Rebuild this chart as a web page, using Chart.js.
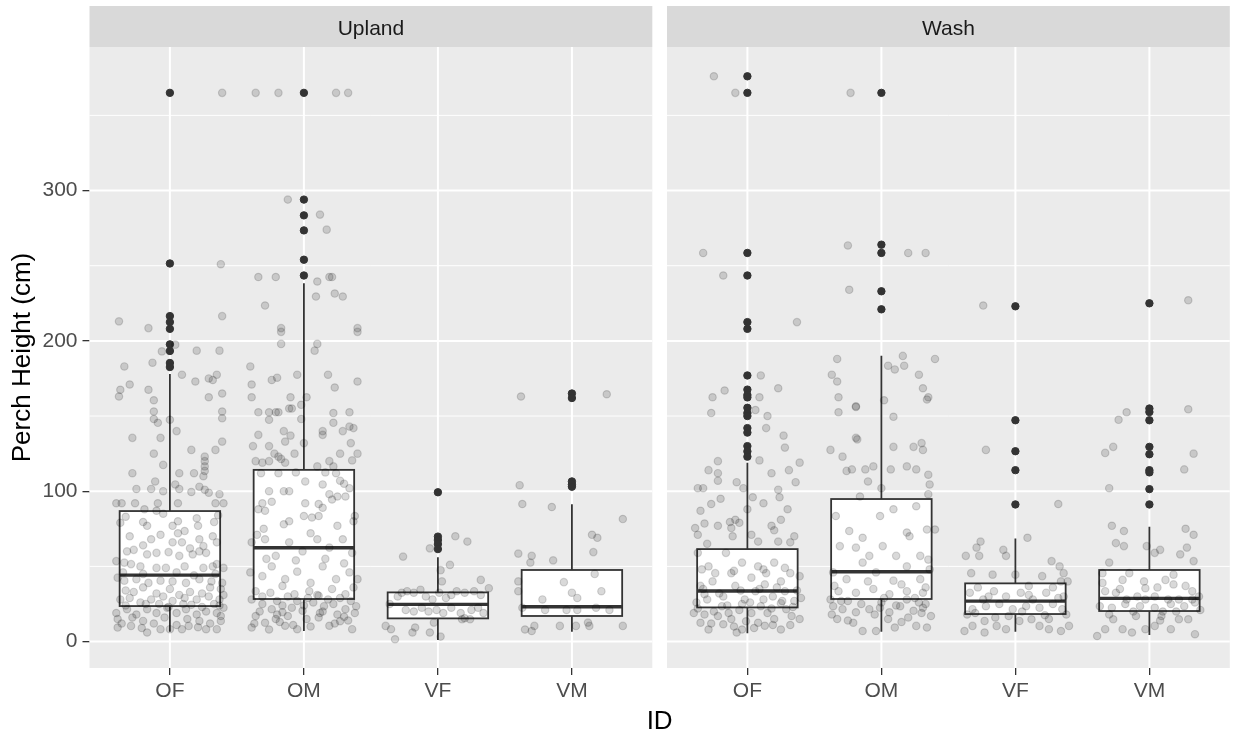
<!DOCTYPE html>
<html><head><meta charset="utf-8">
<script src="https://cdn.jsdelivr.net/npm/chart.js@4"></script>
<style>html,body{margin:0;padding:0;background:#fff;}#wrap{width:1235px;height:736px;position:relative;}</style>
</head><body><div id="wrap"><canvas id="c" width="1235" height="736"></canvas></div>
<script>
// ---------- data ----------
const panels = ['Upland', 'Wash'];
const categories = ['OF', 'OM', 'VF', 'VM'];
const yTicks = [0, 100, 200, 300];
const yMinorTicks = [50, 150, 250, 350];

// box statistics [OF, OM, VF, VM]
const uplandQ1 = [23.6, 28.3, 15.4, 17.0];
const uplandMedian = [44.2, 62.4, 24.7, 23.1];
const uplandQ3 = [86.8, 114.2, 32.7, 47.6];
const uplandLow = [6.5, 7.0, 1.0, 6.5];
const uplandHigh = [177.9, 238.3, 56.0, 91.3];
const washQ1 = [22.7, 28.3, 18.3, 20.3];
const washMedian = [33.6, 46.4, 26.9, 28.7];
const washQ3 = [61.5, 94.8, 38.7, 47.6];
const washLow = [5.5, 6.5, 6.5, 4.3];
const washHigh = [119.0, 190.1, 68.6, 76.4];

// outliers
const uplandOutliers = [
  [365, 251.5, 216.5, 212.5, 208, 197.7, 193.3, 185.3, 182.6],
  [365, 294, 283.5, 273.5, 254, 243.5],
  [99.3, 69.8, 67.5, 64.8, 61.5],
  [165, 162, 106.5, 104.5, 103]
];
const washOutliers = [
  [376, 365, 258.5, 243.5, 212.5, 208, 177, 167.6, 164, 162.4, 155.5, 152, 150, 142, 139, 130, 126.5, 123],
  [365, 264, 258.5, 233, 221],
  [223, 147.2, 126.6, 114, 91.2],
  [225, 155, 152.7, 147.2, 129.5, 124.6, 114, 112.5, 101.4, 91.2]
];

// jittered observations: [horizontal jitter offset (category units), perch height]
const uplandOF = [[0.39,365],[0.38,251],[-0.38,213],[-0.16,208.5],[0.39,216.5],[-0.06,193],[0.04,197.5],[0.2,193.5],[0.37,193.5],[-0.34,183],[-0.13,185.5],[0.09,177.5],[0.19,173],[0.29,175],[0.32,174],[0.35,177.5],[-0.3,171],[-0.37,167.5],[-0.38,163],[-0.16,167.5],[-0.12,160.5],[0.29,162.5],[0.39,165],
[-0.12,153],[-0.12,148],[-0.09,145.5],[0,147.5],[0.39,153],[0.39,148.5],[0.05,140],[-0.28,135.5],[-0.07,135.5],[0.39,133],[-0.12,125],[0.16,127.5],[0.34,127.5],[0.26,123],[0.26,120],[0.26,116.5],[0.26,113.5],[-0.05,117.5],[-0.28,112],[0.07,112],[0.18,112],[0.25,110],[-0.11,106.5],[0.04,104.5],[0.07,101.5],[-0.25,101.5],[-0.14,101.5],[-0.05,100],[0.16,99.5],[0.22,103],[0.26,101],[0.29,99],[0.37,98],[-0.4,92],[-0.36,92],[-0.26,92],[-0.09,92],[0.06,92],[0.34,92],[0.4,92],[-0.19,88],[-0.1,87],
[-0.2,79.5],[-0.17,77],[0.06,80],[0.21,77],[0.33,79.5],[-0.33,83],[-0.05,85],[0.2,82],[0.36,84],
[-0.07,71],[-0.14,68],[0.02,77],[0.06,72],[0.11,73.5],[0.02,66],[0.09,66],[0.22,68],[0.25,63.5],[0.35,66],[0.32,70],
[-0.32,60],[-0.27,61],[-0.17,58],[-0.1,59],[-0.01,59.5],[0.07,57],[0.17,58],[0.22,60],[0.27,59],
[-0.4,53.5],[-0.34,52.5],[-0.29,51.5],[0.35,51.5],[0.4,49],[-0.22,50],[-0.1,49],[-0.03,49],[0.11,50],[0.25,49],[0.32,50],
[-0.39,42.5],[-0.34,40.5],[-0.25,41.5],[-0.16,39],[-0.07,40.5],[0.02,40],[0.12,39],[0.22,41.5],[0.31,40],[0.39,39],
[-0.33,34],[-0.2,36],[0,35],[0.15,33],[0.3,36],[-0.08,25],[0.16,24.5],[0.33,25],
[-0.37,28],[-0.3,29],[-0.22,26],[-0.14,28],[-0.05,30],[0.02,27],[0.11,29],[0.2,28],[0.29,30],[0.37,28],[0.4,31],
[-0.4,19],[-0.32,21.5],[-0.25,18],[-0.17,21.5],[-0.1,19],[-0.02,22.5],[0.05,19],[0.12,21.5],[0.2,18],[0.27,20],[0.35,19],[0.4,22.5],
[-0.39,15],[-0.39,9.3],[-0.29,10.4],[-0.2,13.7],[-0.17,6],[-0.07,8.2],[0,8.2],[0.09,8.2],[0.14,10.4],[0.22,13.7],[0.27,8.2],[0.35,8.2],[0.38,13.7],
[-0.36,12],[-0.28,16],[-0.21,9],[-0.12,12],[-0.04,16],[0.05,11],[0.13,15],[0.21,9.5],[0.3,12],[0.38,17],[-0.33,24],[-0.18,25],[-0.01,23],[0.1,25],[0.24,23],[0.37,24],[-0.27,33],[-0.1,32],[0.07,31],[0.24,32],[0.38,35],[-0.35,46],[-0.2,45],[0.05,46],[0.18,44],[0.34,45],[-0.3,70],[-0.2,64],[0.15,62],[-0.37,79]];

const uplandOM = [[-0.36,365],[-0.19,365],[0.24,365],[0.33,365],
[-0.12,294],[0.12,284],[0.17,274],[-0.34,242.5],[-0.21,242.5],[0.1,239.5],[0.19,242.5],[0.21,242.5],[0.09,229.5],[0.23,231.5],[0.29,229.5],[-0.29,223.5],[-0.17,208.5],[0.4,208.5],[-0.17,206],[0.4,206],[-0.17,198],[0.1,198],[0.08,193.5],[-0.4,183],[-0.39,171],[-0.39,162.5],[-0.24,174],[-0.2,175.5],[-0.05,177.5],[-0.1,162.5],[0.02,162.5],[0.18,177.5],[0.23,169],[0.4,173],
[-0.02,157.5],[-0.34,152.5],[-0.26,152.5],[-0.21,152.5],[-0.19,152.5],[-0.11,155],[-0.09,155],[-0.26,147.5],[-0.02,148],[0.22,152],[0.34,152.5],[0.22,145.5],[0.14,140],[0.14,137.5],[0.29,140],[0.34,143],[0.37,142],[-0.34,137.5],[-0.15,140],[-0.1,137],[-0.14,133],[-0.38,130],[0,132],[0.35,132],[-0.26,130],[-0.22,125],[-0.19,123],[-0.17,121.5],[-0.07,125],[0.27,125],[0.4,125],[-0.36,120],[-0.31,119],[-0.26,120],[-0.14,119],[0.36,120.5],[0.1,116.5],[0.19,120],[0.22,116.5],
[-0.32,112],[-0.19,112],[-0.06,112.5],[0.16,112.5],[0.24,112],[0.01,106.5],[0.14,104.5],[0.27,107],[0.34,102],[-0.26,100],[-0.11,100],[0.19,98],[0.25,96.5],[0.31,96.5],[0.21,94.5],[-0.31,92],[-0.24,93],[0.01,92],[0.11,91.5],[-0.34,88],[-0.29,87],[0,83.5],[0.14,89],[0.11,83.5],[-0.11,80],[0.06,82.5],[0.37,80],[0.38,83.5],
[-0.3,75],[0.05,72],[0.25,77],[-0.15,78],
[-0.39,66],[-0.29,68],[-0.21,57],[-0.11,66],[-0.01,60],[0.1,68],[0.19,62.5],[0.29,68],[0.36,59],[-0.4,46],[-0.31,43.5],[-0.24,50],[-0.14,41.5],[-0.05,46.5],[0.05,39],[0.14,50],[0.24,41.5],[0.34,46],[0.4,41.5],[-0.36,33.5],[-0.25,32.5],[-0.16,37],[-0.07,31.5],[0.04,33.5],[0.11,30.5],[0.21,35],[0.31,31.5],[0.37,36],
[-0.39,28],[-0.31,25],[-0.24,21.5],[-0.16,19.5],[-0.09,22.5],[-0.01,20.5],[0.07,26],[0.15,23.5],[0.22,25],[0.31,21.5],[0.39,23.5],[-0.36,17],[-0.29,12.5],[-0.21,15],[-0.14,10.5],[-0.05,8.2],[0.02,15],[0.11,16],[0.19,10.5],[0.27,13.5],[0.36,8.2],[-0.39,9.3],[-0.16,24],[0.25,18],
[-0.33,20],[-0.2,18],[-0.12,17],[0,24],[0.12,19],[0.3,16.5],[0.38,19],[-0.05,27],[0.18,28],
[-0.37,12],[-0.26,8],[-0.18,13],[-0.08,11],[0.05,10],[0.14,20],[0.23,12],[0.33,14],[-0.31,30],[-0.2,27],[-0.12,30],[0.03,29],[0.1,31],[0.27,29],[0.35,27],[-0.28,55],[-0.06,54],[0.16,55],[0.3,52],[-0.35,71],[-0.15,100],[0.3,105]];

const uplandVF = [[-0.26,56.5],[-0.06,62],[0.13,70],[0.22,66.5],[0.02,47.5],[0.03,40],[0.09,51],[0.32,41],[0.38,35.5],
[-0.27,32.5],[-0.23,33.5],[-0.18,32.5],[-0.13,34.5],[-0.09,30],[-0.04,28],[0.01,32.5],[0.06,29],[0.1,31],[0.14,33.5],[0.2,32.5],[0.27,33.5],[0.32,31],[-0.24,21],[-0.18,20],[-0.12,22.5],[-0.07,20],[-0.01,21],[0.04,19],[0.1,22.5],[0.17,19],[0.2,15.5],[0.25,21],[0.3,22.5],[0.34,19],
[-0.39,10.4],[-0.35,8.2],[-0.32,1.5],[-0.36,25],[-0.3,30],
[-0.19,6],[-0.17,9.3],[-0.06,6],[-0.03,12.6],[0.02,3.3],[0.18,14.8],[0.24,14.8]];

const uplandVM = [[-0.38,163],[0.26,164.5],[-0.39,104],[-0.37,91.5],[-0.15,89.5],[0.38,81.5],[0.15,71],[0.19,69],[-0.4,58.5],[-0.3,57],[-0.14,54],[-0.31,52.5],[0.16,59.5],[-0.4,40],[-0.4,33.5],[-0.22,28],[-0.06,39.5],[0.04,29],[0,32.5],[0.17,45],[0.22,33.5],[-0.2,21],[-0.04,21],[0.04,21],[0.28,21],[-0.37,22.5],[0.18,22.5],[-0.35,8],[-0.3,7],[-0.28,10.4],[-0.09,10.4],[0.03,10.4],[0.12,12.6],[0.13,10.4],[0.38,10.4]];

const washOF = [[-0.25,376],[-0.09,365],[-0.33,258.5],[-0.18,243.5],[0.37,212.5],[0.1,177],[-0.17,167],[-0.26,162.5],[0.09,162.5],[0.23,168.5],
[-0.27,152],[0.06,154],[0.15,150],[0.14,142],[0.27,137],[0.28,129],[-0.22,120],[-0.29,114],[-0.22,112],[-0.22,107],[0.09,120.5],[0.18,112],[0.31,114],[0.39,119],[0.36,106],[0.23,101],[0.24,96],[-0.37,102],[-0.33,102],[-0.08,106],[-0.03,102],[0.04,96],[-0.35,87],[-0.27,91.5],[-0.32,78.5],[-0.22,77],[-0.39,75.5],[-0.37,71],[-0.13,79.5],[-0.09,81],[-0.06,79],[-0.12,75.5],[-0.11,70],[0.18,77],[0.2,74],[0.25,81],[0.32,66],[0.23,66.5],[0.08,66.5],[0.03,71],
[-0.3,65],[0,88],[0.12,92],[-0.2,95],[0.3,88],[0.35,70],
[-0.37,59],[-0.29,50],[-0.24,45.5],[-0.16,59],[-0.12,45.5],[-0.04,52.5],[0.03,42.5],[0.08,50],[0.14,45.5],[0.2,52.5],[0.25,40],[0.32,45.5],[0.39,43.5],[-0.35,37],[-0.32,31.5],[-0.26,40],[-0.18,30],[-0.09,37],[-0.02,28],[0.06,33.5],[0.13,38],[0.19,30],[0.28,33.5],[0.35,27],[-0.38,26],[-0.19,23.5],[-0.04,25],[0.1,23.5],[0.25,25.5],
[-0.4,19],[-0.35,12.5],[-0.29,8],[-0.22,17],[-0.18,11.5],[-0.12,15],[-0.08,6],[-0.04,8],[0.03,19],[0.08,12.5],[0.15,19],[0.2,15],[0.25,8],[0.33,17],[0.39,15],[-0.32,18],[-0.14,19],[-0.01,13.5],[0.13,10.5],[0.29,21.5],
[-0.37,22],[-0.3,28],[-0.25,20],[-0.15,24],[-0.06,21],[0.02,26],[0.12,28],[0.18,22],[0.26,27],[0.34,23],[0.4,29],[-0.33,35],[-0.21,32],[-0.05,34],[0.09,35],[0.22,36],[0.37,34],[-0.27,12],[-0.1,10],[0.05,9],[0.19,11],[0.32,11],[-0.34,48],[-0.1,47],[0.12,48],[0.28,49]];

const washOM = [[-0.23,365],[-0.25,263.5],[0.2,258.5],[0.33,258.5],[-0.24,234],[-0.33,188],[-0.37,177.5],[-0.33,173],[0.16,190],[0.05,183.5],[0.1,181],[0.17,183.5],[0.28,177.5],[0.4,188],[0.31,168.5],[0.35,162.5],[-0.32,162.5],[-0.19,156.5],[0.02,160.5],
[-0.32,152.5],[-0.19,156],[0.09,149.5],[0.34,161],[-0.19,135.5],[-0.18,134.5],[-0.38,127.5],[-0.29,123],[0.09,129.5],[0.24,129.5],[0.3,132],[0.31,127.5],[-0.26,113.5],[-0.22,114.5],[-0.1,106.5],[-0.12,114.5],[-0.06,116.5],[0.07,114.5],[0.19,116.5],[0.26,114.5],[0.35,111],[0.36,104.5],[0,102],[-0.16,96.5],[0.35,98],
[-0.34,83.5],[-0.24,73.5],[-0.14,69],[-0.01,83.5],[0.09,88],[0.19,72.5],[0.26,90],[0.34,74.5],[0.4,74.5],[-0.31,63.5],[-0.19,62.5],[-0.09,57],[0.01,63.5],[0.11,57],[0.21,70],[0.29,57],[0.35,54.5],[-0.36,46],[-0.26,41.5],[-0.14,52.5],[-0.04,46],[0.09,40.5],[0.19,50],[0.29,41.5],[0.36,48],[-0.32,33.5],[-0.19,32.5],[-0.06,35],[0.06,31.5],[0.19,33.5],[0.31,32.5],
[-0.36,23.5],[-0.29,21.5],[-0.19,19.5],[-0.09,21.5],[-0.01,22.5],[0.06,19.5],[0.14,23.5],[0.24,20.5],[0.31,22.5],[0.37,17],[-0.21,12.5],[-0.14,7],[-0.04,7],[0.05,15],[0.1,9.3],[0.26,10.4],[0.34,9.3],[-0.38,28],[0.19,28],
[-0.25,27],[0,26],[0.28,26],[-0.33,15],[0.15,13],
[-0.3,27],[-0.15,25],[0.02,29],[0.11,24],[0.25,29],[0.33,25],[-0.37,18],[-0.25,14],[-0.05,18],[0.2,16],[0.3,19],[-0.35,37],[-0.1,40],[0.15,38],[0.33,36]];

const washVF = [[-0.24,223.5],[-0.22,127.5],[0.32,91.5],[0.09,69],[-0.37,57],[-0.29,62.5],[-0.26,66.5],[-0.27,57],[-0.09,61],[-0.07,57],[0.27,53.5],[0.33,50],[0.36,45.5],[0.34,40],[0.39,40],[-0.33,45.5],[-0.17,44.5],[0,44.5],[0.2,43.5],
[-0.34,32.5],[-0.24,28],[-0.16,33.5],[-0.07,30],[0.04,32.5],[0.13,28],[0.23,32.5],[0.32,29],[-0.32,21.5],[-0.22,23.5],[-0.12,25],[-0.02,21.5],[0.08,23.5],[0.18,22.5],[0.28,25],[0.35,21.5],
[-0.38,7],[-0.32,10.4],[-0.23,13.7],[-0.23,6],[-0.14,10.4],[-0.07,8.2],[0.03,13.7],[0.12,14.8],[0.18,10.4],[0.25,8.2],[0.34,7],[0.4,10.4],
[-0.28,36],[0.1,37],[0.28,36],[-0.05,17],[0.22,17.5],[-0.36,18],
[-0.3,19],[-0.15,16],[0.05,20],[0.25,15],[0.38,18],[-0.2,30],[0.1,31],[0.36,30]];

const washVM = [[0.29,227],[-0.23,147.5],[-0.17,152.5],[0.29,154.5],[-0.33,125.5],[-0.27,129.5],[0.33,125],[0.26,114.5],[-0.3,102],
[-0.28,77],[-0.19,73.5],[-0.25,65.5],[-0.19,63.5],[-0.02,63.5],[0.08,61],[0.04,59],[0.27,75],[0.33,71],[0.28,62.5],[0.23,58],[0.33,53.5],
[-0.3,52.5],[-0.35,45.5],[-0.2,41],[-0.15,45.5],[-0.04,40],[-0.03,35.5],[0.12,41],[0.18,44.5],[0.18,38],[0.32,33.5],
[-0.35,39],[-0.33,33.5],[-0.25,32.5],[-0.17,28],[-0.09,30],[-0.03,28],[0.04,30],[0.14,28],[0.22,28],[0.32,28],[0.37,30],[-0.37,23.5],[-0.28,22.5],[-0.18,25],[-0.07,23.5],[0.04,22.5],[0.16,25],[0.26,23.5],[0.34,26],
[-0.39,3.7],[-0.33,8.2],[-0.27,14.8],[-0.2,8.2],[-0.13,6],[-0.03,8.2],[0.09,17],[0.16,8.2],[0.22,14.8],[0.29,14.8],[0.34,4.9],[0.04,10.4],[-0.1,17],[0.1,20],
[-0.3,18],[-0.12,20],[0.08,14],[0.2,20],[0.38,21],[-0.22,35],[0.06,36],[0.27,37]];

// ---------- layout helpers (category positions on one shared linear axis) ----------
const PANEL_GAP = 0.1095;            // white gap between facets, in category units
const PANEL_SHIFT = 4.2 + PANEL_GAP; // offset of second facet
const X_MIN = 0.4, X_MAX = 0.4 + 4.2 * 2 + PANEL_GAP;
const BOX_HALF = 0.375;

const stats = [
  {q1: uplandQ1, med: uplandMedian, q3: uplandQ3, lo: uplandLow, hi: uplandHigh, out: uplandOutliers, pts: [uplandOF, uplandOM, uplandVF, uplandVM]},
  {q1: washQ1, med: washMedian, q3: washQ3, lo: washLow, hi: washHigh, out: washOutliers, pts: [washOF, washOM, washVF, washVM]}
];
const catX = (p, k) => (k + 1) + p * PANEL_SHIFT;
const tickPositions = [], tickLabels = [];
panels.forEach((_, p) => categories.forEach((c, k) => { tickPositions.push(catX(p, k)); tickLabels.push(c); }));

const outlierData = [], jitterData = [];
stats.forEach((s, p) => {
  s.out.forEach((arr, k) => arr.forEach(v => outlierData.push({x: catX(p, k), y: v})));
  s.pts.forEach((arr, k) => arr.forEach(([dx, v]) => jitterData.push({x: catX(p, k) + dx, y: v})));
});

const FONT = "'Liberation Sans', Arial, sans-serif";

const ggPlugin = {
  id: 'ggPanels',
  beforeDatasetsDraw(chart) {
    const {ctx, chartArea: a} = chart;
    const xs = chart.scales.x, ys = chart.scales.y;
    ctx.save();
    panels.forEach((name, p) => {
      const x0 = xs.getPixelForValue(X_MIN + p * PANEL_SHIFT);
      const x1 = xs.getPixelForValue(X_MIN + 4.2 + p * PANEL_SHIFT);
      // strip
      ctx.fillStyle = '#D9D9D9';
      ctx.fillRect(x0, 6, x1 - x0, a.top - 6);
      ctx.fillStyle = '#1A1A1A';
      ctx.font = '21px ' + FONT;
      ctx.textAlign = 'center';
      ctx.textBaseline = 'middle';
      ctx.fillText(name, (x0 + x1) / 2, 29);
      // panel
      ctx.fillStyle = '#EBEBEB';
      ctx.fillRect(x0, a.top, x1 - x0, a.bottom - a.top);
      ctx.strokeStyle = '#FFFFFF';
      ctx.lineWidth = 1;
      yMinorTicks.forEach(v => {
        const y = ys.getPixelForValue(v);
        ctx.beginPath(); ctx.moveTo(x0, y); ctx.lineTo(x1, y); ctx.stroke();
      });
      ctx.lineWidth = 2;
      yTicks.forEach(v => {
        const y = ys.getPixelForValue(v);
        ctx.beginPath(); ctx.moveTo(x0, y); ctx.lineTo(x1, y); ctx.stroke();
      });
      categories.forEach((c, k) => {
        const x = xs.getPixelForValue(catX(p, k));
        ctx.beginPath(); ctx.moveTo(x, a.top); ctx.lineTo(x, a.bottom); ctx.stroke();
      });
      // boxplots
      const s = stats[p];
      categories.forEach((c, k) => {
        const xc = xs.getPixelForValue(catX(p, k));
        const xl = xs.getPixelForValue(catX(p, k) - BOX_HALF);
        const xr = xs.getPixelForValue(catX(p, k) + BOX_HALF);
        const yq1 = ys.getPixelForValue(s.q1[k]), yq3 = ys.getPixelForValue(s.q3[k]);
        const ym = ys.getPixelForValue(s.med[k]);
        const ylo = ys.getPixelForValue(s.lo[k]), yhi = ys.getPixelForValue(s.hi[k]);
        ctx.strokeStyle = '#333333';
        ctx.lineWidth = 1.8;
        ctx.beginPath();
        ctx.moveTo(xc, yhi); ctx.lineTo(xc, yq3);
        ctx.moveTo(xc, yq1); ctx.lineTo(xc, ylo);
        ctx.stroke();
        ctx.fillStyle = '#FFFFFF';
        ctx.fillRect(xl, yq3, xr - xl, yq1 - yq3);
        ctx.strokeRect(xl, yq3, xr - xl, yq1 - yq3);
        ctx.lineWidth = 3.4;
        ctx.beginPath(); ctx.moveTo(xl, ym); ctx.lineTo(xr, ym); ctx.stroke();
      });
    });
    ctx.restore();
  }
};

Chart.defaults.font.family = FONT;

new Chart(document.getElementById('c'), {
  type: 'scatter',
  data: {
    datasets: [
      {label: 'outliers', data: outlierData, order: 2, pointRadius: 3.7, pointBorderWidth: 1,
       backgroundColor: '#333333', borderColor: '#333333'},
      {label: 'observations', data: jitterData, order: 1, pointRadius: 3.7, pointBorderWidth: 1.2,
       backgroundColor: 'rgba(0,0,0,0.15)', borderColor: 'rgba(0,0,0,0.15)'}
    ]
  },
  options: {
    responsive: false, animation: false, devicePixelRatio: 1, events: [],
    layout: {padding: {left: 9, right: 3, top: 47, bottom: 0}},
    plugins: {legend: {display: false}, tooltip: {enabled: false}, title: {display: false}},
    scales: {
      x: {
        type: 'linear', min: X_MIN, max: X_MAX,
        afterBuildTicks: s => { s.ticks = tickPositions.map(v => ({value: v})); },
        afterFit: s => { s.height = 68; },
        ticks: {callback: (v, i) => tickLabels[i], autoSkip: false, maxRotation: 0, padding: 4,
                color: '#4D4D4D', font: {size: 21, family: FONT}},
        grid: {drawOnChartArea: false, drawTicks: true, tickLength: 7, color: '#333333', lineWidth: 1.3},
        border: {display: false},
        title: {display: true, text: 'ID', color: '#000000', padding: {top: 0, bottom: 0},
                font: {size: 26, family: FONT, lineHeight: 1.1}}
      },
      y: {
        type: 'linear', min: -17.6, max: 395.5,
        afterBuildTicks: s => { s.ticks = yTicks.map(v => ({value: v})); },
        afterFit: s => { s.width = 80.5; },
        ticks: {padding: 5, color: '#4D4D4D', font: {size: 21, family: FONT}},
        grid: {drawOnChartArea: false, drawTicks: true, tickLength: 7, color: '#333333', lineWidth: 1.3},
        border: {display: false},
        title: {display: true, text: 'Perch Height (cm)', color: '#000000', padding: {top: 0, bottom: 0},
                font: {size: 26, family: FONT, lineHeight: 1.1}}
      }
    }
  },
  plugins: [ggPlugin]
});
</script></body></html>
